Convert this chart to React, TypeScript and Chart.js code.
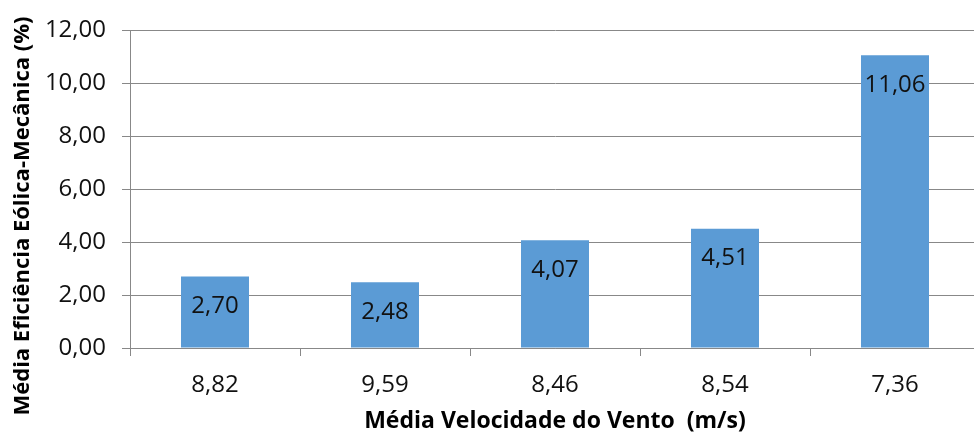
import React, { useEffect, useRef } from "react";
import { Chart, registerables } from "chart.js";

Chart.register(...registerables);

const categories = ["8,82", "9,59", "8,46", "8,54", "7,36"];
const efficiency = [2.7, 2.48, 4.07, 4.51, 11.06];
const yTitle = "Média Eficiência Eólica-Mecânica (%)";
const xTitle = "Média Velocidade do Vento  (m/s)";

const FONT = "'Open Sans', 'DejaVu Sans', sans-serif";
const fmt = (v: number) => v.toFixed(2).replace(".", ",");

const labelPlugin = {
  id: "barLabels",
  afterDatasetsDraw(chart: any) {
    const ctx = chart.ctx;
    const meta = chart.getDatasetMeta(0);
    ctx.save();
    ctx.font = `24px ${FONT}`;
    ctx.fillStyle = "#111";
    ctx.textAlign = "center";
    ctx.textBaseline = "middle";
    meta.data.forEach((el: any, i: number) => {
      ctx.fillText(fmt(efficiency[i]), el.x, el.y + 30);
    });
    ctx.restore();
  },
};

const yTitlePlugin = {
  id: "yTitle",
  afterDraw(chart: any) {
    const ctx = chart.ctx;
    ctx.save();
    ctx.font = `bold 22px ${FONT}`;
    ctx.fillStyle = "#000";
    ctx.textAlign = "center";
    ctx.textBaseline = "middle";
    ctx.translate(23, 216);
    ctx.rotate(-Math.PI / 2);
    ctx.fillText(yTitle, 0, 0);
    ctx.restore();
  },
};

export default function App() {
  const ref = useRef<HTMLCanvasElement>(null);
  useEffect(() => {
    if (!ref.current) return;
    const chart = new Chart(ref.current, {
      type: "bar",
      data: {
        labels: categories,
        datasets: [
          {
            data: efficiency,
            backgroundColor: "#5B9BD5",
            borderWidth: 0,
            categoryPercentage: 1,
            barPercentage: 0.4,
          },
        ],
      },
      options: {
        responsive: false,
        animation: false,
        devicePixelRatio: 1,
        layout: { padding: { top: 29, right: 10, left: 0, bottom: 0 } },
        plugins: {
          legend: { display: false },
          tooltip: { enabled: false },
        },
        scales: {
          x: {
            afterFit: (s: any) => {
              s.height = 90;
            },
            grid: {
              offset: true,
              drawOnChartArea: false,
              drawTicks: true,
              tickLength: 8,
              color: "#888888",
            },
            border: { color: "#888888", width: 1 },
            ticks: {
              color: "#111",
              font: { family: FONT, size: 24 },
              padding: 15,
              maxRotation: 0,
              autoSkip: false,
            },
            title: {
              display: true,
              text: xTitle,
              color: "#000",
              font: { family: FONT, size: 23, weight: "bold" },
              padding: { top: 0, bottom: 3 },
            },
          },
          y: {
            min: 0,
            max: 12,
            afterFit: (s: any) => {
              s.width = 130;
            },
            grid: {
              color: "#888888",
              drawTicks: true,
              tickLength: 8,
            },
            border: { color: "#888888", width: 1 },
            ticks: {
              stepSize: 2,
              color: "#111",
              font: { family: FONT, size: 24 },
              padding: 16,
              callback: (v: any) => fmt(Number(v)),
            },
          },
        },
      },
      plugins: [labelPlugin, yTitlePlugin],
    });
    return () => chart.destroy();
  }, []);

  return (
    <div
      style={{
        position: "fixed",
        top: 0,
        left: 0,
        width: 974,
        height: 438,
        overflow: "hidden",
        background: "#fff",
      }}
    >
      <canvas ref={ref} width={990} height={438} style={{ display: "block" }} />
    </div>
  );
}
